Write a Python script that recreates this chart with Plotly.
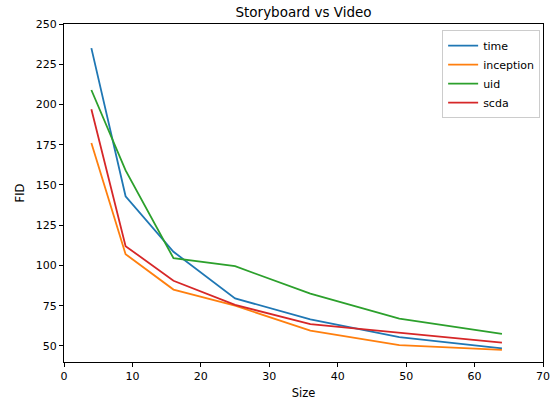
import plotly.graph_objects as go

sizes = [4, 9, 16, 25, 36, 49, 64]
time_fid = [235, 143, 108.5, 79.5, 66.5, 55.5, 48.5]
inception_fid = [176, 107, 85, 75, 59.5, 50.5, 47.5]
uid_fid = [209, 159, 104.5, 99.5, 82.5, 67, 57.5]
scda_fid = [197, 112, 90.5, 75.5, 63.5, 58, 52]

series = [
    ("time", time_fid, "#1f77b4"),
    ("inception", inception_fid, "#ff7f0e"),
    ("uid", uid_fid, "#2ca02c"),
    ("scda", scda_fid, "#d62728"),
]

x_ticks = [0, 10, 20, 30, 40, 50, 60, 70]
y_ticks = [50, 75, 100, 125, 150, 175, 200, 225, 250]

fig = go.Figure()
for name, vals, color in series:
    fig.add_trace(go.Scatter(x=sizes, y=vals, mode="lines", name=name,
                             line=dict(color=color, width=1.8)))

axis_common = dict(showline=True, linecolor="black", linewidth=1, mirror=True,
                   showgrid=False, zeroline=False, ticks="outside", ticklen=4,
                   tickwidth=1, tickcolor="black", automargin=False,
                   tickfont=dict(size=11, color="black"))

fig.update_layout(
    width=553, height=400,
    margin=dict(l=64, r=10, t=24, b=38),
    paper_bgcolor="white", plot_bgcolor="white",
    font=dict(family="DejaVu Sans", color="black"),
    title=dict(text="Storyboard vs Video", x=0.5, xref="paper", xanchor="center",
               y=1 - 12/400, yanchor="middle", font=dict(size=13.5), automargin=False),
    xaxis=dict(range=[0, 70], tickvals=x_ticks,
               title=dict(text="Size", font=dict(size=11.5), standoff=6), **axis_common),
    yaxis=dict(range=[40, 250], tickvals=y_ticks,
               title=dict(text="FID", font=dict(size=11.5), standoff=8), **axis_common),
    legend=dict(x=0.994, y=0.982, xanchor="right", yanchor="top",
                bordercolor="#cccccc", borderwidth=1, bgcolor="rgba(255,255,255,0.8)",
                font=dict(size=11), tracegroupgap=0),
    showlegend=True,
)

fig.write_html("out.html", config={"displayModeBar": False},
               post_script="document.body.style.margin='0';document.body.style.overflow='hidden';")
